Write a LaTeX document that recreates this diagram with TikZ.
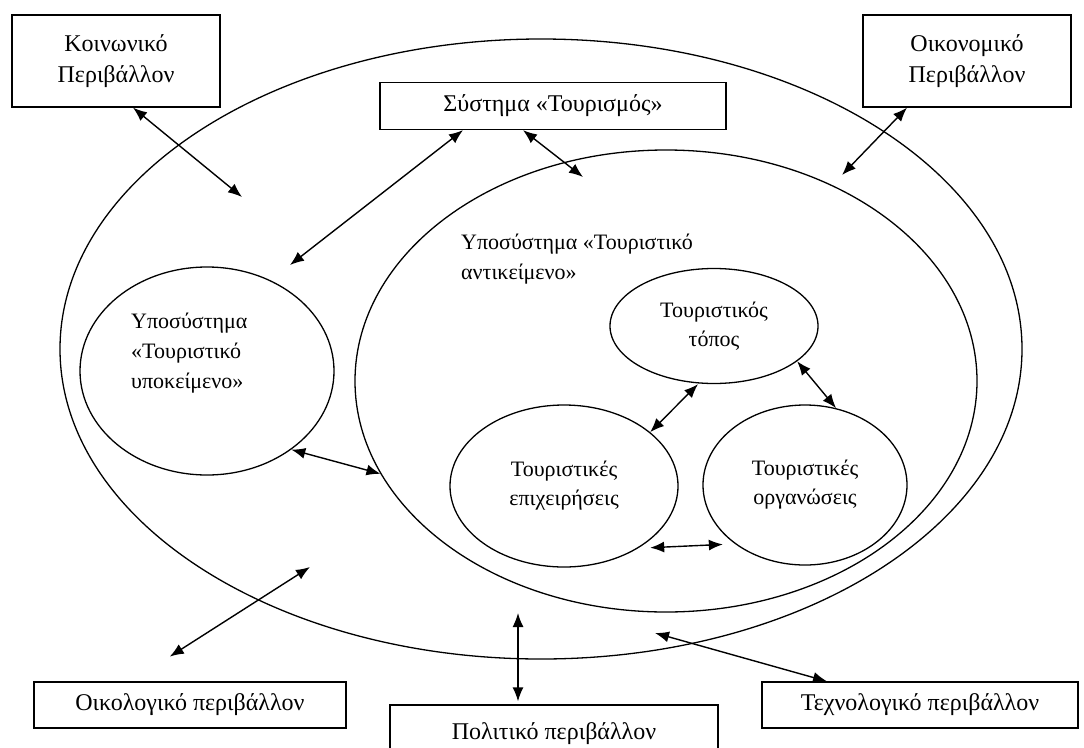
\documentclass[tikz,border=0pt]{standalone}
\usepackage{fontspec}
\setmainfont{Liberation Serif}
\usetikzlibrary{shapes.geometric,arrows.meta}

\begin{document}
\begin{tikzpicture}[x=1pt,y=-1pt,
	env box/.style = {rectangle,draw,line width=1.3pt,inner sep=0pt,align=center,
		font=\fontsize{24}{31}\selectfont},
	sub node/.style = {ellipse,draw,line width=1.3pt,inner sep=0pt,align=center,
		font=\fontsize{22}{29}\selectfont},
	sub label/.style = {align=left,anchor=north west,inner sep=0pt,
		font=\fontsize{22}{30}\selectfont},
	link/.style = {>={Latex[length=14pt,width=11pt]},<->,line width=1.4pt}]
	\useasboundingbox (0,0) rectangle (1084,747);
	\clip (0,0) rectangle (1084,747);

	% environment boxes
	\node[env box,minimum width=208,minimum height=92] (koin) at (116,61) {Κοινωνικό\\Περιβάλλον};
	\node[env box,minimum width=208,minimum height=92] (oikon) at (967,61) {Οικονομικό\\Περιβάλλον};
	\node[env box,minimum width=346,minimum height=47] (tour) at (553,106) {Σύστημα «Τουρισμός»};
	\node[env box,minimum width=312,minimum height=46] (oikol) at (190,705) {Οικολογικό περιβάλλον};
	\node[env box,minimum width=328,minimum height=58] (polit) at (554,734) {Πολιτικό περιβάλλον};
	\node[env box,minimum width=316,minimum height=46] (tech) at (920,705) {Τεχνολογικό περιβάλλον};

	% subsystems
	\node[sub node,minimum width=962,minimum height=620] (sys) at (541,349) {};
	\node[sub node,minimum width=622,minimum height=462] (obj) at (666,381) {};
	\node[sub node,minimum width=254,minimum height=208] (subj) at (207,371) {};
	\node[sub node,minimum width=208,minimum height=115] (topos) at (714,326) {Τουριστικός\\τόπος};
	\node[sub node,minimum width=228,minimum height=162] (epix) at (564,486) {Τουριστικές\\επιχειρήσεις};
	\node[sub node,minimum width=204,minimum height=160] (org) at (805,485) {Τουριστικές\\οργανώσεις};
	\node[sub label] (objlabel) at (461,234) {Υποσύστημα «Τουριστικό\\αντικείμενο»};
	\node[sub label] (subjlabel) at (131,313) {Υποσύστημα\\«Τουριστικό\\υποκείμενο»};

	\coordinate (koinend) at (242,197);
	\coordinate (tourend1) at (290,265);
	\coordinate (tourend2) at (583,177);
	\coordinate (oikonend) at (842,175);
	\coordinate (oikolend) at (310,567);
	\coordinate (politend) at (518,613);
	\coordinate (techend) at (655,633);

	\path[link]
	([xshift=17pt]koin.south) edge (koinend)
	([xshift=-90pt]tour.south) edge (tourend1)
	([xshift=-30pt]tour.south) edge (tourend2)
	([xshift=-60pt]oikon.south) edge (oikonend)
	([xshift=-16pt]topos.south) edge (epix.32)
	(topos.-23) edge (org.68)
	(subj.-43) edge (obj.198)
	(epix.-40) edge[shorten <=12pt,shorten >=12pt] (org.-140)
	([xshift=-59pt]oikol.north) edge[shorten <=46pt] (oikolend)
	([xshift=-36pt]polit.north) edge[shorten <=3pt] (politend)
	([xshift=-93pt]tech.north) edge (techend);
\end{tikzpicture}
\end{document}
